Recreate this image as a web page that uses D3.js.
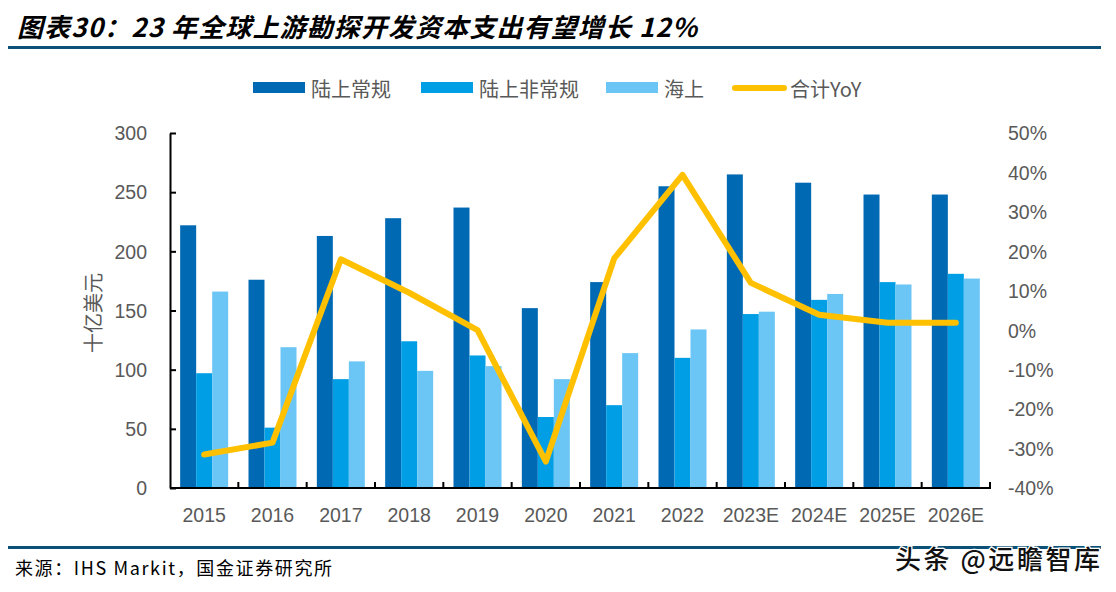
<!DOCTYPE html>
<html>
<head>
<meta charset="utf-8">
<script src="https://cdn.jsdelivr.net/npm/d3@7"></script>
<style>
  html, body { margin: 0; padding: 0; background: #fff; }
  svg { display: block; }
</style>
</head>
<body>
<svg id="chart" width="1116" height="592"></svg>
<script>
// ---------------- data ----------------
const categories = ["2015","2016","2017","2018","2019","2020","2021","2022","2023E","2024E","2025E","2026E"];
const seriesNames = ["陆上常规","陆上非常规","海上"];
const onshoreConventional   = [222,176,213,228,237,152,174,255,265,258,248,248];
const onshoreUnconventional = [97,51,92,124,112,60,70,110,147,159,174,181];
const offshore              = [166,119,107,99,103,92,114,134,149,164,172,177];
const totalYoY              = [-31.5,-28.5,18,9.5,0,-33.3,18.2,39.4,12,3.9,1.9,1.9];
const lineName = "合计YoY";
const leftTicks  = [0,50,100,150,200,250,300];
const rightTicks = [-40,-30,-20,-10,0,10,20,30,40,50];
const titleText = "图表30：23 年全球上游勘探开发资本支出有望增长 12%";
const sourceText = "来源：IHS Markit，国金证券研究所";
const watermarkText = "头条 @远瞻智库";
const yTitle = "十亿美元";

// ---------------- style ----------------
const colors = ["#0069B4", "#009FE5", "#6CC6F5"];
const lineColor = "#FFC000";
const labelColor = "#595959";
const ruleColor = "#0B5177";
const numFont = "'Liberation Sans', Arial, sans-serif";
const cjkFont = "'Noto Sans CJK SC', 'Liberation Sans', sans-serif";

const svg = d3.select("#chart");
const plot = { left: 170, right: 990, top: 133, bottom: 488 };

const x0 = d3.scaleBand().domain(categories)
  .range([plot.left, plot.right])
  .paddingInner(0.2976).paddingOuter(0.1488);
const x1 = d3.scaleBand().domain(seriesNames).range([0, x0.bandwidth()]);
const yL = d3.scaleLinear().domain([0, 300]).range([plot.bottom, plot.top]);
const yR = d3.scaleLinear().domain([-40, 50]).range([plot.bottom, plot.top]);

// title
svg.append("text")
  .attr("x", 17).attr("y", 37)
  .attr("textLength", 680).attr("lengthAdjust", "spacing")
  .style("font-family", cjkFont).style("font-size", "26px")
  .style("font-weight", "bold").style("font-style", "italic")
  .style("fill", "#000").text(titleText);
svg.append("rect").attr("x", 8).attr("y", 46).attr("width", 1093).attr("height", 3).attr("fill", ruleColor);

// bars
const seriesData = [onshoreConventional, onshoreUnconventional, offshore];
const gBars = svg.append("g");
seriesData.forEach((vals, si) => {
  gBars.selectAll(null).data(vals).enter().append("rect")
    .attr("x", (d, i) => x0(categories[i]) + x1(seriesNames[si]))
    .attr("width", x1.bandwidth())
    .attr("y", d => yL(d))
    .attr("height", d => yL(0) - yL(d))
    .attr("fill", colors[si]);
});

// axes
const axisL = d3.axisLeft(yL).tickValues(leftTicks).tickSizeInner(-6).tickSizeOuter(0).tickFormat(d3.format("d"));
const gL = svg.append("g").attr("transform", `translate(${plot.left},0)`).call(axisL);
gL.select(".domain").attr("stroke", "#000").attr("stroke-width", 2);
gL.selectAll(".tick line").attr("stroke", "#000").attr("stroke-width", 2);
gL.selectAll(".tick text").attr("x", -23).attr("dy", "0.35em")
  .style("font-family", numFont).style("font-size", "19.5px").style("fill", labelColor);

const axisR = d3.axisRight(yR).tickValues(rightTicks).tickSize(0).tickFormat(d => d + "%");
const gR = svg.append("g").attr("transform", `translate(${plot.right},0)`).call(axisR);
gR.select(".domain").remove();
gR.selectAll(".tick text").attr("x", 18).attr("dy", "0.35em")
  .style("font-family", numFont).style("font-size", "19.5px").style("fill", labelColor)
  .attr("text-anchor", "start");

// x axis
const gX = svg.append("g");
gX.append("line").attr("x1", plot.left).attr("x2", plot.right + 1)
  .attr("y1", plot.bottom).attr("y2", plot.bottom)
  .attr("stroke", "#000").attr("stroke-width", 2);
const step = x0.step();
const boundaries = categories.map((c, i) => x0(c) - x0.paddingOuter() * step + step);
gX.selectAll(".xt").data(boundaries).enter().append("line")
  .attr("x1", d => d).attr("x2", d => d)
  .attr("y1", plot.bottom).attr("y2", plot.bottom - 6)
  .attr("stroke", "#000").attr("stroke-width", 2);
gX.selectAll(".xl").data(categories).enter().append("text")
  .attr("x", d => x0(d) + x0.bandwidth() / 2)
  .attr("y", 522)
  .attr("text-anchor", "middle")
  .style("font-family", numFont).style("font-size", "19.5px").style("fill", labelColor)
  .text(d => d);

// y title
svg.append("text")
  .attr("transform", "translate(92,313) rotate(-90)")
  .attr("text-anchor", "middle").attr("dominant-baseline", "central")
  .style("font-family", cjkFont).style("font-size", "20px").style("fill", labelColor)
  .text(yTitle);

// line
const line = d3.line()
  .x((d, i) => x0(categories[i]) + x0.bandwidth() / 2)
  .y(d => yR(d));
svg.append("path").datum(totalYoY)
  .attr("d", line)
  .attr("fill", "none").attr("stroke", lineColor)
  .attr("stroke-width", 6).attr("stroke-linejoin", "round").attr("stroke-linecap", "round");

// legend
const legendItems = [
  { name: seriesNames[0], type: "rect", color: colors[0], x: 253 },
  { name: seriesNames[1], type: "rect", color: colors[1], x: 421 },
  { name: seriesNames[2], type: "rect", color: colors[2], x: 606 },
  { name: lineName, type: "line", color: lineColor, x: 732 }
];
const gLeg = svg.append("g");
legendItems.forEach(it => {
  if (it.type === "rect") {
    gLeg.append("rect").attr("x", it.x).attr("y", 82).attr("width", 52).attr("height", 11).attr("fill", it.color);
  } else {
    gLeg.append("line").attr("x1", it.x + 3).attr("x2", it.x + 52).attr("y1", 88).attr("y2", 88)
      .attr("stroke", it.color).attr("stroke-width", 6).attr("stroke-linecap", "round");
  }
  gLeg.append("text").attr("x", it.x + 58).attr("y", 88)
    .attr("dominant-baseline", "central")
    .style("font-family", cjkFont).style("font-size", "20px").style("fill", labelColor)
    .text(it.name);
});

// footer
svg.append("rect").attr("x", 8).attr("y", 546).attr("width", 1093).attr("height", 3).attr("fill", ruleColor);
svg.append("text").attr("x", 15).attr("y", 575)
  .attr("textLength", 317).attr("lengthAdjust", "spacing")
  .style("font-family", cjkFont).style("font-size", "18px").style("fill", "#000")
  .text(sourceText);
svg.append("text").attr("x", 895).attr("y", 569)
  .attr("textLength", 205).attr("lengthAdjust", "spacing")
  .style("font-family", cjkFont).style("font-size", "26px").style("font-weight", "500").style("fill", "#111")
  .style("stroke", "#fff").style("stroke-width", 2.5).style("paint-order", "stroke")
  .text(watermarkText);
</script>
</body>
</html>
